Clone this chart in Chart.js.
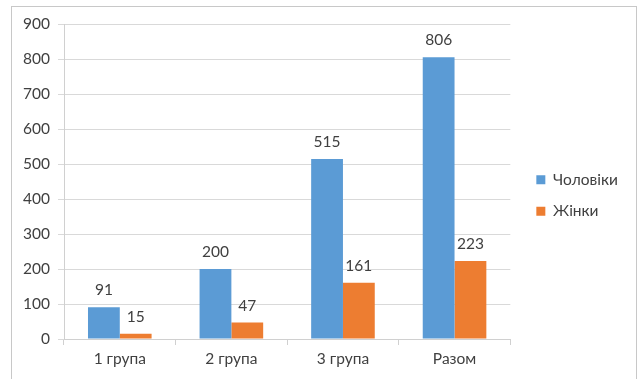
<!DOCTYPE html>
<html>
<head>
    <title>Чоловіки / Жінки</title>
    <script src="https://cdn.jsdelivr.net/npm/chart.js"></script>
    <style>
        body { margin: 0; background: #fff; }
        #frame {
            position: absolute; left: 11px; top: 6px;
            width: 624px; height: 380px;
            border: 1px solid #c8c8c8; background: #fff;
        }
        #chart-box { position: absolute; left: 0; top: 0; width: 624px; height: 372px; }
    </style>
</head>
<body>
    <div id="frame">
        <div id="chart-box"><canvas id="chart"></canvas></div>
    </div>

    <script>
// Data
const categories = ['1 група', '2 група', '3 група', 'Разом'];
const men = [91, 200, 515, 806];
const women = [15, 47, 161, 223];
const seriesNames = ['Чоловіки', 'Жінки'];

const fontFamily = 'Lato, "Open Sans", sans-serif';

// Draws the value above each bar
const valueLabels = {
    id: 'valueLabels',
    afterDatasetsDraw(chart) {
        const ctx = chart.ctx;
        ctx.save();
        ctx.font = '15.5px ' + fontFamily;
        ctx.fillStyle = '#404040';
        ctx.textAlign = 'center';
        ctx.textBaseline = 'middle';
        chart.data.datasets.forEach((ds, i) => {
            chart.getDatasetMeta(i).data.forEach((bar, j) => {
                ctx.fillText(ds.data[j], bar.x, bar.y - 17);
            });
        });
        ctx.restore();
    }
};

new Chart(document.getElementById('chart').getContext('2d'), {
    type: 'bar',
    data: {
        labels: categories,
        datasets: [{
            label: seriesNames[0],
            data: men,
            backgroundColor: '#5B9BD5',
            yAxisID: 'y'
        }, {
            label: seriesNames[1],
            data: women,
            backgroundColor: '#ED7D31',
            yAxisID: 'y'
        }]
    },
    options: {
        responsive: true,
        maintainAspectRatio: false,
        animation: false,
        datasets: {
            bar: { categoryPercentage: 0.57, barPercentage: 1.0 }
        },
        layout: { padding: { top: 15, right: 14, bottom: 10, left: 0 } },
        scales: {
            x: {
                grid: { display: true, drawOnChartArea: false, tickLength: 6, color: '#d0d0d0', offset: true },
                border: { color: '#d0d0d0' },
                ticks: { color: '#404040', font: { family: fontFamily, size: 15.5 }, padding: 5 },
                afterFit: s => { s.height = 30; }
            },
            y: {
                min: 0,
                max: 900,
                ticks: { stepSize: 100, color: '#404040', font: { family: fontFamily, size: 15.5 }, padding: 8 },
                grid: { color: '#d9d9d9', tickLength: 6 },
                border: { color: '#d0d0d0' },
                afterFit: s => { s.width = 52; }
            },
            gap: {
                position: 'right',
                display: true,
                grid: { display: false },
                border: { display: false },
                ticks: { display: false },
                afterFit: s => { s.width = 10; }
            }
        },
        plugins: {
            legend: {
                position: 'right',
                labels: {
                    boxWidth: 9,
                    boxHeight: 9,
                    padding: 16,
                    color: '#404040',
                    font: { family: fontFamily, size: 15.5 }
                }
            },
            tooltip: { enabled: false }
        }
    },
    plugins: [valueLabels]
});
   </script>
</body>
</html>
